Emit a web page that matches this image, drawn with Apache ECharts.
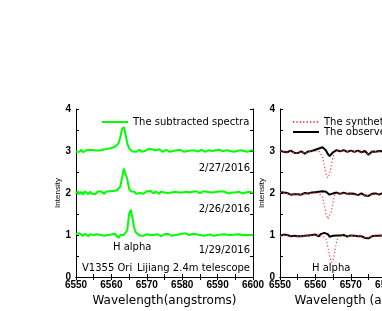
<!DOCTYPE html>
<html>
<head>
<meta charset="utf-8">
<script src="https://cdn.jsdelivr.net/npm/echarts@6/dist/echarts.min.js"></script>
<style>html,body{margin:0;padding:0;background:#fff}#c{width:382px;height:311px}</style>
</head>
<body>
<div id="c"></div>
<script>
// Wavelength grid (angstroms)
const wavelength = [
6550,6550.5,6551,6551.5,6552,6552.5,6553,6553.5,6554,6554.5,
6555,6555.5,6556,6556.5,6557,6557.5,6558,6558.5,6559,6559.5,
6560,6560.5,6561,6561.5,6562,6562.5,6563,6563.5,6564,6564.5,
6565,6565.5,6566,6566.5,6567,6567.5,6568,6568.5,6569,6569.5,
6570,6570.5,6571,6571.5,6572,6572.5,6573,6573.5,6574,6574.5,
6575,6575.5,6576,6576.5,6577,6577.5,6578,6578.5,6579,6579.5,
6580,6580.5,6581,6581.5,6582,6582.5,6583,6583.5,6584,6584.5,
6585,6585.5,6586,6586.5,6587,6587.5,6588,6588.5,6589,6589.5,
6590,6590.5,6591,6591.5,6592,6592.5,6593,6593.5,6594,6594.5,
6595,6595.5,6596,6596.5,6597,6597.5,6598,6598.5,6599,6599.5,
6600];

// Left panel: subtracted spectra
const sub_20160227 = [
2.98,3.02,2.98,3.03,2.97,3.01,3.02,2.98,3.03,3.00,
3.02,3.04,3.01,3.05,3.02,3.06,3.04,3.07,3.05,3.08,
3.07,3.09,3.10,3.12,3.18,3.32,3.52,3.57,3.40,3.18,
3.06,3.02,2.99,3.02,2.98,3.01,3.03,2.98,3.02,3.00,
3.03,3.05,3.01,3.04,3.06,3.02,3.00,3.04,3.01,2.98,
3.01,3.03,2.99,2.98,3.02,3.00,2.98,3.02,3.00,3.03,
3.00,2.98,3.02,3.00,3.03,3.01,2.98,3.01,3.02,2.99,
3.00,3.03,3.01,2.98,3.01,3.02,3.03,3.00,2.98,3.02,
3.00,3.03,3.01,2.99,2.98,3.02,3.03,3.00,3.02,2.98,
3.02,3.00,2.98,3.02,3.03,3.00,3.02,2.98,3.00,3.02,
3.00];
const sub_20160226 = [
1.99,2.04,1.97,2.03,1.96,2.04,2.00,1.97,2.03,1.98,
2.02,1.97,2.03,2.00,2.04,2.01,1.98,2.03,2.01,2.04,
2.02,2.05,2.03,2.06,2.08,2.15,2.36,2.58,2.61,2.32,
2.10,2.04,2.00,2.03,1.98,2.02,2.00,2.03,1.98,2.01,
2.04,2.01,2.05,2.02,1.99,2.04,2.01,1.98,2.03,2.00,
2.01,2.04,2.00,2.03,2.01,1.98,2.03,2.00,2.01,2.04,
2.01,1.99,2.03,2.04,2.01,1.99,2.03,2.01,2.04,2.02,
2.00,2.02,2.04,2.01,2.03,1.99,2.01,2.04,2.02,1.99,
2.03,2.01,2.04,2.00,2.03,2.01,1.99,2.03,2.01,2.04,
2.01,1.99,2.03,2.01,1.99,2.03,2.01,1.99,2.03,2.01,
2.00];
const sub_20160129 = [
1.03,1.00,1.04,1.01,0.98,1.03,1.00,0.97,1.02,0.98,
1.00,0.97,1.02,0.98,1.00,1.03,0.98,1.02,1.00,1.03,
1.01,0.99,1.03,1.01,0.93,1.00,1.02,1.00,1.04,1.12,
1.50,1.60,1.38,1.15,1.05,1.02,0.99,1.02,0.98,1.00,
1.02,0.98,1.00,1.03,1.00,0.98,1.02,1.00,0.97,1.00,
1.02,1.00,1.03,1.00,0.98,1.02,1.00,1.03,1.01,1.00,
1.03,1.01,1.04,1.02,1.00,1.02,1.03,1.00,1.02,1.03,
1.00,1.02,0.98,1.02,1.00,1.03,1.01,1.00,0.98,1.02,
1.00,1.03,1.01,0.99,1.02,0.98,1.00,1.02,1.00,1.03,
1.01,0.99,1.02,0.98,1.00,1.02,1.00,0.98,1.00,1.02,
1.00];

// Right panel: observed and synthetic spectra
const obs_top = [
3.01,2.99,2.98,3.00,2.97,2.99,3.01,2.98,2.96,2.98,
2.95,2.97,2.99,2.96,2.94,2.97,2.99,3.01,3.00,3.02,
3.03,3.05,3.06,3.08,3.09,3.07,3.01,2.93,2.88,2.91,
2.97,3.01,3.02,3.00,2.99,3.01,3.02,3.00,2.98,3.00,
3.01,2.99,2.98,3.00,3.01,2.99,2.97,2.98,3.00,2.97,
2.91,2.95,2.99,3.00,2.98,3.01,3.00,2.97,2.99,3.01,
3.00,2.98,3.00,3.02,2.99,2.97,3.00,3.01,2.99,3.00,
2.98,3.00,3.01,2.99,2.97,2.99,3.01,3.00,2.98,3.00,
3.01,2.99,3.00,2.98,3.00,3.01,2.99,3.00,3.02,3.00,
2.99,3.00,3.01,2.99,3.00,2.98,3.00,3.01,2.99,3.00,
3.00];
const syn_top = [
3.00,2.99,2.98,2.99,2.97,2.98,3.00,2.98,2.96,2.97,
2.95,2.96,2.98,2.96,2.94,2.96,2.98,2.99,2.99,3.00,
3.00,3.01,3.00,2.96,2.86,2.66,2.45,2.36,2.44,2.66,
2.87,2.98,3.01,3.00,2.99,3.00,3.01,3.00,2.98,2.99,
3.00,2.99,2.97,2.99,3.00,2.98,2.96,2.97,2.99,2.96,
2.90,2.94,2.98,2.99,2.98,3.00,2.99,2.97,2.98,3.00,
2.99,2.98,2.99,3.01,2.99,2.97,2.99,3.00,2.99,3.00,
2.98,2.99,3.00,2.99,2.97,2.98,3.00,2.99,2.98,2.99,
3.00,2.99,2.99,2.98,2.99,3.00,2.99,2.99,3.01,3.00,
2.99,2.99,3.00,2.99,2.99,2.98,2.99,3.00,2.99,2.99,
3.00];
const obs_mid = [
2.02,1.99,2.01,1.97,2.00,1.98,1.96,1.99,1.97,1.95,
1.97,1.99,1.96,1.98,2.00,2.01,1.99,2.02,2.01,2.03,
2.02,2.04,2.03,2.05,2.04,2.06,2.03,1.99,1.96,1.95,
1.99,2.02,2.01,2.00,1.98,2.00,2.01,1.99,1.98,2.00,
1.99,1.97,1.98,1.96,1.95,1.97,1.99,1.96,1.94,1.95,
1.93,1.96,1.98,1.97,1.99,1.98,1.96,1.98,2.00,1.99,
1.98,2.00,1.99,1.97,1.99,2.01,2.00,1.98,1.99,2.00,
1.99,2.01,2.00,1.98,1.99,2.00,2.01,1.99,2.00,1.98,
1.99,2.00,2.01,2.00,1.98,1.99,2.00,2.01,1.99,2.00,
2.00,1.99,2.01,2.00,1.99,1.98,2.00,2.01,2.00,1.99,
2.00];
const syn_mid = [
2.01,1.99,2.00,1.97,1.99,1.97,1.96,1.98,1.96,1.95,
1.96,1.98,1.96,1.97,1.99,2.00,1.98,2.00,2.00,2.01,
2.00,2.01,2.00,1.98,1.90,1.72,1.50,1.38,1.36,1.55,
1.80,1.96,2.00,1.99,1.97,1.99,2.00,1.98,1.97,1.99,
1.98,1.96,1.97,1.95,1.94,1.96,1.98,1.95,1.93,1.94,
1.92,1.95,1.97,1.96,1.98,1.97,1.95,1.97,1.99,1.98,
1.97,1.99,1.98,1.96,1.98,2.00,1.99,1.97,1.98,1.99,
1.98,2.00,1.99,1.97,1.98,1.99,2.00,1.98,1.99,1.97,
1.98,1.99,2.00,1.99,1.97,1.98,1.99,2.00,1.98,1.99,
1.99,1.98,2.00,1.99,1.98,1.97,1.99,2.00,1.99,1.98,
1.99];
const obs_bot = [
0.98,1.00,1.01,0.99,1.00,0.98,0.97,0.99,0.98,0.96,
0.97,0.95,0.97,0.99,0.98,1.00,0.99,1.01,1.00,1.02,
1.01,1.00,0.97,1.02,1.03,1.05,1.07,1.02,0.96,0.95,
0.98,1.00,0.99,0.97,0.99,1.01,1.00,0.98,0.96,0.97,
0.99,1.00,0.98,0.96,0.97,0.99,0.97,0.94,0.93,0.96,
0.92,0.95,0.97,0.99,0.98,0.96,0.98,1.00,0.99,0.97,
0.98,1.00,0.99,0.97,0.99,1.01,1.00,0.98,0.99,1.00,
0.99,1.01,1.00,0.98,0.99,1.00,1.01,0.99,1.00,0.98,
0.99,1.00,1.01,1.00,0.98,0.99,1.00,1.01,0.99,1.00,
1.00,0.99,1.01,1.00,0.99,0.98,1.00,1.01,1.00,0.99,
1.00];
const syn_bot = [
0.97,0.99,1.00,0.99,0.99,0.97,0.97,0.98,0.97,0.96,
0.96,0.95,0.96,0.98,0.98,0.99,0.99,1.00,1.00,1.01,
1.00,0.99,0.98,1.00,0.98,0.98,0.90,0.72,0.50,0.35,
0.40,0.62,0.85,0.96,0.98,1.00,0.99,0.97,0.96,0.97,
0.98,0.99,0.97,0.96,0.96,0.98,0.96,0.94,0.93,0.95,
0.92,0.94,0.96,0.98,0.97,0.96,0.97,0.99,0.98,0.97,
0.97,0.99,0.98,0.97,0.98,1.00,0.99,0.98,0.98,0.99,
0.98,1.00,0.99,0.98,0.98,0.99,1.00,0.99,0.99,0.98,
0.98,0.99,1.00,0.99,0.98,0.98,0.99,1.00,0.99,0.99,
0.99,0.98,1.00,0.99,0.98,0.98,0.99,1.00,0.99,0.99,
0.99];

const pairs = arr => wavelength.map((w, i) => [w, arr[i]]);

const AX_FONT = 'Arial';
const TXT_FONT = 'DejaVu Sans';

function xAxes(gridIndex, nameText) {
  const common = {
    gridIndex, type: 'value', min: 6550, max: 6600, interval: 5,
    axisLine: { lineStyle: { color: '#000', width: 1 } },
    axisTick: { inside: true, length: 3, lineStyle: { color: '#000' } },
    splitLine: { show: false }
  };
  return [
    Object.assign({}, common, {
      position: 'bottom',
      name: nameText, nameLocation: 'middle', nameGap: 14,
      nameTextStyle: { fontFamily: TXT_FONT, fontSize: 12, color: '#000' },
      axisLabel: {
        margin: 3, fontFamily: AX_FONT, fontSize: 10, fontWeight: 'bold', color: '#000',
        showMinLabel: true, showMaxLabel: true, hideOverlap: false,
        formatter: v => (v % 10 === 0 ? String(v) : '')
      }
    }),
    Object.assign({}, common, { position: 'top', axisLabel: { show: false } })
  ];
}
function yAxes(gridIndex, nameGap) {
  const common = {
    gridIndex, type: 'value', min: 0, max: 4, interval: 0.5,
    axisLine: { lineStyle: { color: '#000', width: 1 } },
    axisTick: { inside: true, length: 3, lineStyle: { color: '#000' } },
    splitLine: { show: false }
  };
  return [
    Object.assign({}, common, {
      position: 'left',
      name: 'Intensity', nameLocation: 'middle', nameGap, nameRotate: 90,
      nameTextStyle: { fontFamily: AX_FONT, fontSize: 8, color: '#000' },
      axisLabel: {
        margin: 5, fontFamily: AX_FONT, fontSize: 10, fontWeight: 'bold', color: '#000',
        formatter: v => (Number.isInteger(v) ? String(v) : '')
      }
    }),
    Object.assign({}, common, { position: 'right', axisLabel: { show: false } })
  ];
}

const green = { color: '#00ff00', width: 2 };
const black = { color: '#000', width: 2 };
const red = { color: '#ff3b3b', width: 1.2, type: [1.2, 2.2] };
function line(name, data, xi, yi, style, z) {
  return {
    name, type: 'line', data: pairs(data), xAxisIndex: xi, yAxisIndex: yi,
    symbol: 'none', lineStyle: style, itemStyle: { color: style.color },
    animation: false, z: z || 2
  };
}

const txt = (x, y, text, align, size) => ({
  type: 'text', x, y, silent: true,
  style: { text, fill: '#000', font: (size || 10) + 'px "' + TXT_FONT + '"', align: align || 'left', verticalAlign: 'middle' }
});

const chart = echarts.init(document.getElementById('c'), null, { renderer: 'canvas' });
chart.setOption({
  backgroundColor: '#fff',
  animation: false,
  grid: [
    { left: 76, top: 109, width: 177, height: 168, outerBoundsMode: 'none', containLabel: false },
    { left: 280, top: 109, width: 177, height: 168, outerBoundsMode: 'none', containLabel: false }
  ],
  xAxis: [...xAxes(0, 'Wavelength(angstroms)'), ...xAxes(1, 'Wavelength (angstroms)')],
  yAxis: [...yAxes(0, 10), ...yAxes(1, 12)],
  legend: [
    {
      left: 96, top: 112, itemWidth: 26, itemHeight: 10, itemGap: 0,
      itemStyle: { opacity: 0 },
      data: ['The subtracted spectra'],
      textStyle: { fontFamily: TXT_FONT, fontSize: 10, color: '#000' }
    },
    {
      left: 287, top: 112, orient: 'vertical', itemWidth: 26, itemHeight: 8, itemGap: 0,
      itemStyle: { opacity: 0 },
      data: ['The synthetic spectra', 'The observed spectra'],
      textStyle: { fontFamily: TXT_FONT, fontSize: 10, color: '#000' }
    }
  ],
  series: [
    line('The subtracted spectra', sub_20160227, 0, 0, green),
    line('The subtracted spectra', sub_20160226, 0, 0, green),
    line('The subtracted spectra', sub_20160129, 0, 0, green),
    line('The observed spectra', obs_top, 2, 2, black, 2),
    line('The observed spectra', obs_mid, 2, 2, black, 2),
    line('The observed spectra', obs_bot, 2, 2, black, 2),
    line('The synthetic spectra', syn_top, 2, 2, red, 3),
    line('The synthetic spectra', syn_mid, 2, 2, red, 3),
    line('The synthetic spectra', syn_bot, 2, 2, red, 3)
  ],
  graphic: [
    txt(250, 168, '2/27/2016', 'right'),
    txt(250, 209, '2/26/2016', 'right'),
    txt(250, 250, '1/29/2016', 'right'),
    txt(113, 247, 'H alpha', 'left'),
    txt(82, 268, 'V1355 Ori', 'left'),
    txt(250, 268, 'Lijiang 2.4m telescope', 'right'),
    txt(312, 268, 'H alpha', 'left')
  ]
});
</script>
</body>
</html>
